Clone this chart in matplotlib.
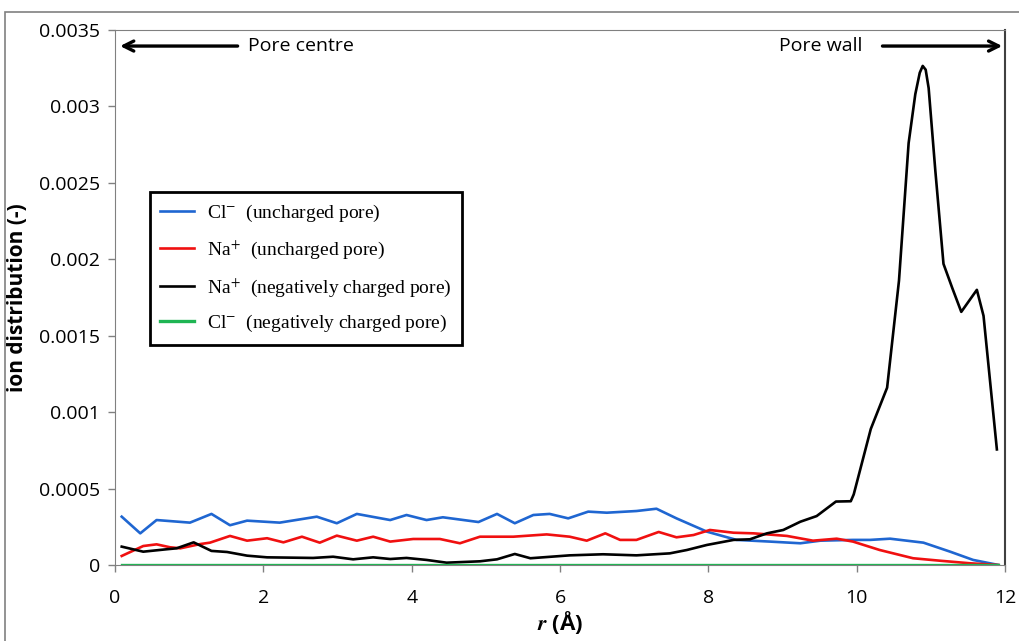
import numpy as np
import matplotlib
matplotlib.use('agg')
import matplotlib.pyplot as plt
from matplotlib.patches import Rectangle

plt.rcParams['mathtext.fontset'] = 'stix'

# radial positions (Angstrom) and ion distributions
r_cl_unch = [0.09, 0.34, 0.56, 1.01, 1.30, 1.55, 1.78, 2.22, 2.72, 2.99, 3.26, 3.71, 3.93, 4.20,
             4.42, 4.90, 5.15, 5.39, 5.64, 5.86, 6.11, 6.38, 6.63, 7.03, 7.30, 7.57, 7.98, 8.38,
             8.83, 9.24, 9.51, 9.95, 10.18, 10.45, 10.90, 11.26, 11.57, 11.91]
cl_unch = [0.000316, 0.000207, 0.000294, 0.000277, 0.000334, 0.000260, 0.000290, 0.000277,
           0.000316, 0.000273, 0.000334, 0.000294, 0.000327, 0.000294, 0.000312, 0.000281,
           0.000334, 0.000273, 0.000327, 0.000334, 0.000305, 0.000349, 0.000342, 0.000353,
           0.000368, 0.000305, 0.000218, 0.000164, 0.000153, 0.000142, 0.000159, 0.000164,
           0.000164, 0.000172, 0.000146, 0.000087, 0.000033, 0.0]

r_na_unch = [0.09, 0.38, 0.56, 0.74, 0.88, 1.15, 1.28, 1.55, 1.78, 2.05, 2.27, 2.52, 2.76, 2.99,
             3.26, 3.48, 3.71, 4.02, 4.38, 4.65, 4.92, 5.37, 5.82, 6.13, 6.36, 6.61, 6.81, 7.03,
             7.33, 7.57, 7.80, 8.02, 8.34, 8.61, 9.06, 9.41, 9.73, 9.95, 10.31, 10.76, 11.12,
             11.53, 11.91]
na_unch = [0.000059, 0.000124, 0.000135, 0.000116, 0.000109, 0.000137, 0.000146, 0.000190,
           0.000159, 0.000175, 0.000148, 0.000185, 0.000146, 0.000192, 0.000159, 0.000185,
           0.000153, 0.000170, 0.000170, 0.000142, 0.000185, 0.000185, 0.000200, 0.000185,
           0.000159, 0.000207, 0.000164, 0.000164, 0.000216, 0.000181, 0.000196, 0.000229,
           0.000211, 0.000207, 0.000190, 0.000159, 0.000172, 0.000153, 0.000098, 0.000044,
           0.000028, 0.000011, 0.0]

r_na_neg = [0.09, 0.38, 0.70, 0.83, 1.06, 1.30, 1.51, 1.78, 2.05, 2.67, 2.94, 3.21, 3.48, 3.71,
            3.93, 4.20, 4.47, 4.92, 5.15, 5.39, 5.60, 6.13, 6.58, 7.03, 7.48, 7.71, 7.98, 8.34,
            8.56, 8.79, 9.01, 9.24, 9.46, 9.72, 9.92, 9.96, 10.19, 10.41, 10.57, 10.70, 10.79,
            10.85, 10.89, 10.93, 10.97, 11.06, 11.17, 11.29, 11.41, 11.62, 11.71, 11.89]
na_neg = [0.000120, 0.000087, 0.000103, 0.000109, 0.000148, 0.000092, 0.000085, 0.000061,
          0.000050, 0.000046, 0.000054, 0.000037, 0.000050, 0.000039, 0.000046, 0.000033,
          0.000015, 0.000024, 0.000037, 0.000072, 0.000044, 0.000063, 0.000070, 0.000063,
          0.000076, 0.000098, 0.000131, 0.000164, 0.000168, 0.000207, 0.000229, 0.000283,
          0.000320, 0.000415, 0.000417, 0.000462, 0.000890, 0.001160, 0.001860, 0.002760,
          0.003080, 0.003220, 0.003265, 0.003240, 0.003120, 0.002580, 0.001970, 0.001810,
          0.001656, 0.001800, 0.001630, 0.000756]

r_cl_neg = [0.09, 11.91]
cl_neg = [0.0, 0.0]

yticks = [0, 0.0005, 0.001, 0.0015, 0.002, 0.0025, 0.003, 0.0035]
ytick_labels = ['0', '0.0005', '0.001', '0.0015', '0.002', '0.0025', '0.003', '0.0035']
xticks = [0, 2, 4, 6, 8, 10, 12]

tick_font = 'Open Sans'

fig = plt.figure(figsize=(10.19, 6.41), dpi=100)
# outer frame
fig.patches.append(Rectangle((5 / 1019, -0.05), 1.1, 629 / 641 + 0.05, transform=fig.transFigure,
                             fill=False, edgecolor='#808080', linewidth=1.2))
ax = fig.add_axes([0.1129, 0.1186, 0.8734, 0.8346])

ax.plot(r_cl_unch, cl_unch, color='#1f66d1', lw=1.9, label=r'Cl$^{-}$  (uncharged pore)')
ax.plot(r_na_unch, na_unch, color='#f01010', lw=1.9, label=r'Na$^{+}$  (uncharged pore)')
ax.plot(r_na_neg, na_neg, color='black', lw=1.9, label=r'Na$^{+}$  (negatively charged pore)')
ax.plot(r_cl_neg, cl_neg, color='#1fb553', lw=2.4, label=r'Cl$^{-}$  (negatively charged pore)')

ax.set_xlim(0, 12)
ax.set_ylim(0, 0.0035)
ax.set_xticks(xticks)
ax.set_xticklabels([str(x) for x in xticks], family=tick_font, fontsize=14)
ax.set_yticks(yticks)
ax.set_yticklabels(ytick_labels, family=tick_font, fontsize=14)
ax.tick_params(direction='out', length=5, color='#808080', width=1.0)
ax.tick_params(axis='x', pad=12)
ax.tick_params(axis='y', pad=6)
for side in ['left', 'bottom', 'top']:
    ax.spines[side].set_color('#808080')
ax.spines['right'].set_color('#404040')
ax.spines['right'].set_linewidth(1.5)

ax.set_ylabel('ion distribution (-)', family=tick_font, fontsize=15, fontweight='bold', labelpad=8)
ax.set_xlabel(r'$\mathbfit{r}$ (Å)', family=tick_font, fontsize=16, fontweight='bold', labelpad=2)

# pore centre / pore wall arrows
ax.annotate('', xy=(0.03, 0.003395), xytext=(1.69, 0.003395),
            arrowprops=dict(arrowstyle='->', lw=2.4, color='black', mutation_scale=18))
ax.text(1.79, 0.003395, 'Pore centre', family=tick_font, fontsize=14, va='center', ha='left')
ax.annotate('', xy=(12.0, 0.003395), xytext=(10.31, 0.003395),
            arrowprops=dict(arrowstyle='->', lw=2.4, color='black', mutation_scale=18))
ax.text(10.07, 0.003395, 'Pore wall', family=tick_font, fontsize=14, va='center', ha='right')

leg = ax.legend(loc='upper left', bbox_to_anchor=(0.039, 0.697), borderaxespad=0,
                prop={'family': 'Liberation Serif', 'size': 14}, fancybox=False,
                edgecolor='black', framealpha=1, labelspacing=0.75, handlelength=1.7,
                borderpad=0.55, handletextpad=0.7)
leg.get_frame().set_linewidth(2.0)

plt.savefig('out.png', dpi=100)
